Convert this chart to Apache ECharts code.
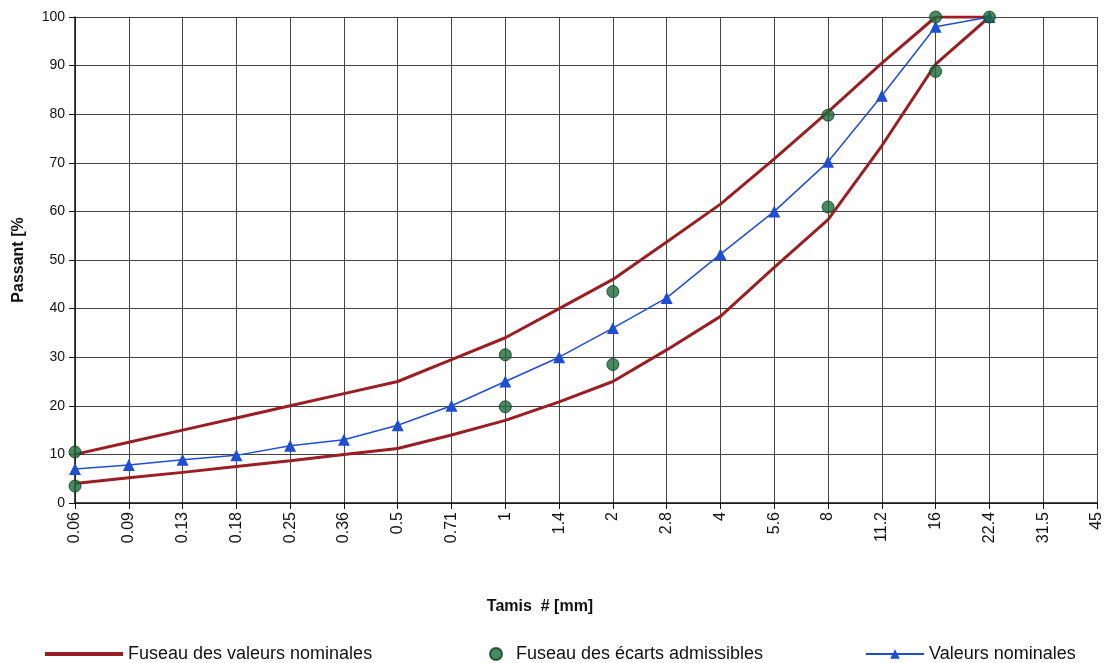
<!DOCTYPE html>
<html>
<head>
<meta charset="utf-8">
<script src="https://cdn.jsdelivr.net/npm/echarts@6/dist/echarts.min.js"></script>
<style>html,body{margin:0;padding:0;background:#fff}#c{width:1105px;height:663px}</style>
</head>
<body>
<div id="c"></div>
<script>
const categories = ['0.06','0.09','0.13','0.18','0.25','0.36','0.5','0.71','1','1.4','2','2.8','4','5.6','8','11.2','16','22.4','31.5','45'];
const upperEnvelope = [10,12.5,15,17.5,20,22.5,25,29.5,34,40,46,53.7,61.5,70.8,80.5,90.5,100,100,null,null];
const lowerEnvelope = [4,5.2,6.3,7.5,8.7,10,11.2,14,17,20.8,25,31.5,38.4,48.5,58.3,73.5,90.3,100,null,null];
const nominal = [7,7.8,8.9,9.8,11.8,13,16,20,25,30,36,42.2,51.2,60,70.2,83.8,98,100,null,null];
const admissible = [['0.06',10.5],['0.06',3.5],['1',30.5],['1',19.8],['2',43.5],['2',28.5],['8',79.8],['8',60.9],['16',100],['16',88.8],['22.4',100]];
const yTicks = [0,10,20,30,40,50,60,70,80,90,100];

const chart = echarts.init(document.getElementById('c'));
const red = '#9a1f24', blue = '#1f4fd1', green = '#1b6b3a';
const legendFont = {fontFamily:'Liberation Sans, Arial', fontSize:18, color:'#111'};
chart.setOption({
  animation:false,
  grid:{left:75,right:8,top:17,bottom:160},
  xAxis:{
    type:'category', data:categories, boundaryGap:false,
    name:'Tamis  # [mm]', nameLocation:'middle', nameGap:96,
    nameTextStyle:{fontFamily:'Liberation Sans, Arial', fontWeight:'bold', fontSize:16, color:'#111', padding:[0,92,0,0]},
    axisLine:{lineStyle:{color:'#111',width:1.5}},
    axisTick:{show:true, length:6, lineStyle:{color:'#111'}},
    axisLabel:{rotate:90, interval:0, fontFamily:'Liberation Sans, Arial', fontSize:16, color:'#111', margin:9},
    splitLine:{show:true, lineStyle:{color:'#444',width:1}}
  },
  yAxis:{
    type:'value', min:0, max:100, interval:10,
    name:'Passant [%', nameLocation:'middle', nameGap:48,
    nameTextStyle:{fontFamily:'Liberation Sans, Arial', fontWeight:'bold', fontSize:16, color:'#111'},
    axisLine:{show:true, lineStyle:{color:'#111',width:1.5}},
    axisTick:{show:true, length:6, lineStyle:{color:'#111'}},
    axisLabel:{fontFamily:'Liberation Sans, Arial', fontSize:14, color:'#111', margin:10,
      formatter:v => yTicks.includes(v) ? String(v) : ''},
    splitLine:{show:true, lineStyle:{color:'#444',width:1}}
  },
  legend:[
    {data:[{name:'Fuseau des valeurs nominales', icon:'rect'}], left:40, top:640, itemWidth:78, itemHeight:4, itemGap:4, textStyle:legendFont},
    {data:['Fuseau des écarts admissibles'], left:484, top:640, itemWidth:14, itemHeight:12, textStyle:{...legendFont, padding:[0,0,0,8]}},
    {data:['Valeurs nominales'], left:860, top:640, itemWidth:58, itemHeight:12, textStyle:legendFont}
  ],
  series:[
    {name:'Fuseau des valeurs nominales', type:'line', data:upperEnvelope, symbol:'none', lineStyle:{color:red,width:3}, itemStyle:{color:red}, z:3},
    {name:'Fuseau des valeurs nominales', type:'line', data:lowerEnvelope, symbol:'none', lineStyle:{color:red,width:3}, itemStyle:{color:red}, z:3},
    {name:'Valeurs nominales', type:'line', data:nominal, symbol:'triangle', symbolSize:12, lineStyle:{color:blue,width:1.5}, itemStyle:{color:blue}, z:4},
    {name:'Fuseau des écarts admissibles', type:'scatter', data:admissible, symbol:'circle', symbolSize:12, itemStyle:{color:green, borderColor:'#0d3a1e', borderWidth:1}, z:5}
  ]
});
</script>
</body>
</html>
